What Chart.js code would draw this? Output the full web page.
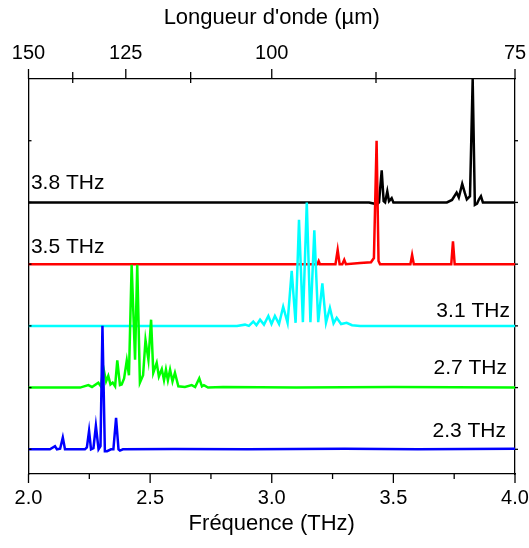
<!DOCTYPE html>
<html>
<head>
<meta charset="utf-8">
<script src="https://cdn.jsdelivr.net/npm/chart.js@4"></script>
<style>
  html, body { margin: 0; padding: 0; background: #fff; }
  #wrap { width: 529px; height: 548px; position: relative; }
</style>
</head>
<body>
<div id="wrap"><canvas id="c" width="529" height="548"></canvas></div>
<script>
// Stacked emission spectra, each trace normalised to a peak of 2 and offset by 1 unit.
const seriesLabels = ['2.3 THz', '2.7 THz', '3.1 THz', '3.5 THz', '3.8 THz'];
const seriesColors = ['#0000ff', '#00ff00', '#00ffff', '#ff0000', '#000000'];
const seriesOffsets = [0, 1, 2, 3, 4];

// 2.3 THz trace
const freq23 = [2.0, 2.088, 2.109, 2.117, 2.130, 2.141, 2.150, 2.232, 2.240, 2.249, 2.257, 2.267, 2.277, 2.288,
  2.296, 2.304, 2.314, 2.323, 2.339, 2.349, 2.360, 2.370, 2.376, 2.388, 2.6, 2.9, 3.3, 3.6, 4.0];
const val23 = [0, 0, 0.05, 0, 0.01, 0.19, 0, 0, 0.03, 0.30, 0, 0.02, 0.38, 0,
  0.05, 2.0, -0.03, -0.03, 0, 0, 0.51, 0, -0.02, 0, 0.005, 0, 0.01, 0, 0.01];

// 2.7 THz trace
const freq27 = [2.0, 2.212, 2.246, 2.261, 2.287, 2.298, 2.308, 2.319, 2.328, 2.337, 2.346, 2.356, 2.365, 2.376,
  2.383, 2.393, 2.404, 2.413, 2.424, 2.438, 2.447, 2.458, 2.471, 2.481, 2.493, 2.504, 2.513, 2.527, 2.536,
  2.548, 2.557, 2.565, 2.573, 2.582, 2.592, 2.602, 2.616, 2.643, 2.671, 2.685, 2.702, 2.713, 2.721, 2.738,
  2.8, 3.1, 3.5, 4.0];
const val27 = [0, 0, 0.04, 0.01, 0.08, 0.02, 0.32, 0.10, 0.19, 0.05, 0.08, 0.02, 0.44, 0.04,
  0.05, 0.15, 0.44, 0.20, 1.99, 0.45, 1.99, 0.08, 0.20, 0.77, 0.45, 1.10, 0.24, 0.40, 0.18,
  0.30, 0.12, 0.29, 0.12, 0.29, 0.10, 0.24, 0.02, 0.01, 0.04, 0.01, 0.15, 0.02, 0.04, 0,
  0.01, 0, 0.01, 0];

// 3.1 THz trace
const freq31 = [2.0, 2.857, 2.890, 2.906, 2.924, 2.937, 2.952, 2.968, 2.986, 2.999, 3.013, 3.030, 3.047, 3.065,
  3.082, 3.098, 3.112, 3.128, 3.144, 3.159, 3.175, 3.191, 3.208, 3.223, 3.239, 3.254, 3.267, 3.285,
  3.308, 3.330, 3.363, 4.0];
const val31 = [0, 0, 0.02, 0, 0.07, 0.01, 0.10, 0.02, 0.16, 0.03, 0.16, 0.03, 0.31, 0.05,
  0.89, 0.05, 1.72, 0.06, 2.0, 0.06, 1.55, 0.06, 0.69, 0.05, 0.29, 0.04, 0.13, 0.03,
  0.05, 0.01, 0, 0];

// 3.5 THz trace
const freq35 = [2.0, 3.150, 3.188, 3.193, 3.198, 3.262, 3.271, 3.279, 3.290, 3.298, 3.305, 3.363, 3.408, 3.420,
  3.431, 3.439, 3.445, 3.570, 3.577, 3.584, 3.738, 3.745, 3.752, 4.0];
const val35 = [0, 0, 0, 0.05, 0, 0, 0.23, 0, 0, 0.07, 0, 0.02, 0.03, 0.10,
  2.0, 0.05, 0, 0, 0.15, 0, 0, 0.37, 0, 0];

// 3.8 THz trace
const freq38 = [2.0, 3.40, 3.433, 3.441, 3.452, 3.460, 3.466, 3.475, 3.482, 3.493, 3.500, 3.720, 3.741, 3.760,
  3.769, 3.783, 3.794, 3.802, 3.815, 3.826, 3.835, 3.844, 3.852, 3.860, 3.868, 4.0];
const val38 = [0, 0, -0.03, 0, 0.52, 0.02, 0, 0.18, 0.02, 0.07, 0, 0, 0.04, 0.16,
  0.08, 0.30, 0.15, 0.05, 0.10, 2.0, -0.04, -0.02, 0.05, 0.10, 0, 0];

const seriesFreqs = [freq23, freq27, freq31, freq35, freq38];
const seriesVals = [val23, val27, val31, val35, val38];

// Axis ticks
const freqMajor = [2.0, 2.5, 3.0, 3.5, 4.0];
const freqMinor = [2.25, 2.75, 3.25, 3.75];
const waveMajor = [150, 125, 100, 75];
const waveMinor = [137.5, 112.5, 87.5];
const yTicks = [0, 1, 2, 3, 4, 5];
const C_UM_THZ = 300; // wavelength (µm) = 300 / frequency (THz)

// Trace labels: x (THz), height above the trace's baseline, alignment
const labelX = [3.963, 3.967, 3.979, 2.010, 2.010];
const labelDy = [0.20, 0.216, 0.149, 0.18, 0.219];
const labelAlign = ['right', 'right', 'right', 'left', 'left'];

const FONT = '"Liberation Sans", Arial, Helvetica, sans-serif';

const datasets = seriesLabels.map((lab, i) => ({
  label: lab,
  data: seriesFreqs[i].map((f, k) => ({ x: f, y: seriesOffsets[i] + seriesVals[i][k] })),
  borderColor: seriesColors[i],
  borderWidth: 2.5,
  pointRadius: 0,
  tension: 0,
  fill: false
}));

const frameTicks = {
  id: 'frameTicks',
  afterDraw(chart) {
    const { ctx, chartArea: a, scales } = chart;
    const xs = scales.x, ys = scales.y;
    ctx.save();
    ctx.strokeStyle = '#000';
    ctx.lineWidth = 1.3;
    const seg = (x1, y1, x2, y2) => { ctx.beginPath(); ctx.moveTo(x1, y1); ctx.lineTo(x2, y2); ctx.stroke(); };
    freqMajor.forEach(v => { const p = xs.getPixelForValue(v); seg(p, a.bottom, p, a.bottom + 9); });
    freqMinor.forEach(v => { const p = xs.getPixelForValue(v); seg(p, a.bottom, p, a.bottom + 5); });
    waveMajor.forEach(w => { const p = xs.getPixelForValue(C_UM_THZ / w); seg(p, a.top - 10, p, a.top); });
    waveMinor.forEach(w => { const p = xs.getPixelForValue(C_UM_THZ / w); seg(p, a.top - 7, p, a.top + 4); });
    yTicks.forEach(v => {
      const p = ys.getPixelForValue(v);
      seg(a.left, p, a.left + 3, p);
      seg(a.right, p, a.right + 3, p);
    });
    // trace labels
    ctx.fillStyle = '#000';
    ctx.font = '21px ' + FONT;
    ctx.textBaseline = 'alphabetic';
    seriesLabels.forEach((lab, i) => {
      ctx.textAlign = labelAlign[i];
      ctx.fillText(lab, xs.getPixelForValue(labelX[i]), ys.getPixelForValue(seriesOffsets[i] + labelDy[i]));
    });
    ctx.restore();
  }
};

const noEdgePad = s => { s.paddingLeft = 0; s.paddingRight = 0; s.paddingTop = 0; s.paddingBottom = 0; };

new Chart(document.getElementById('c'), {
  type: 'line',
  data: { datasets },
  options: {
    responsive: false,
    animation: false,
    events: [],
    layout: { padding: 0 },
    plugins: { legend: { display: false }, tooltip: { enabled: false } },
    scales: {
      x: {
        type: 'linear', position: 'bottom', min: 2, max: 4,
        afterBuildTicks: s => { s.ticks = freqMajor.map(v => ({ value: v })); },
        afterFit: s => { s.height = 74; noEdgePad(s); },
        grid: { display: true, drawOnChartArea: false, drawTicks: false },
        border: { display: true, color: '#000', width: 1.3 },
        ticks: { color: '#000', font: { family: FONT, size: 20 }, padding: 12, maxRotation: 0,
          callback: v => Number(v).toFixed(1) },
        title: { display: true, text: 'Fréquence (THz)', color: '#000', font: { family: FONT, size: 22 }, padding: { top: 0, bottom: 11 } }
      },
      x2: {
        type: 'linear', position: 'top', min: 2, max: 4,
        afterBuildTicks: s => { s.ticks = waveMajor.map(w => ({ value: C_UM_THZ / w })); },
        afterFit: s => { s.height = 79; noEdgePad(s); },
        grid: { display: true, drawOnChartArea: false, drawTicks: false },
        border: { display: true, color: '#000', width: 1.3 },
        ticks: { color: '#000', font: { family: FONT, size: 20 }, padding: 14, maxRotation: 0,
          callback: v => String(Math.round(C_UM_THZ / v)) },
        title: { display: true, text: "Longueur d'onde (µm)", color: '#000', font: { family: FONT, size: 22 }, padding: { top: 5, bottom: 0 } }
      },
      y: {
        type: 'linear', position: 'left', min: -0.4, max: 6,
        afterFit: s => { s.width = 28.5; noEdgePad(s); },
        grid: { display: false, drawTicks: false },
        border: { display: true, color: '#000', width: 1.3 },
        ticks: { display: false }
      },
      y2: {
        type: 'linear', position: 'right', min: -0.4, max: 6,
        afterFit: s => { s.width = 14; noEdgePad(s); },
        grid: { display: false, drawTicks: false },
        border: { display: true, color: '#000', width: 1.3 },
        ticks: { display: false }
      }
    }
  },
  plugins: [frameTicks]
});
</script>
</body>
</html>
